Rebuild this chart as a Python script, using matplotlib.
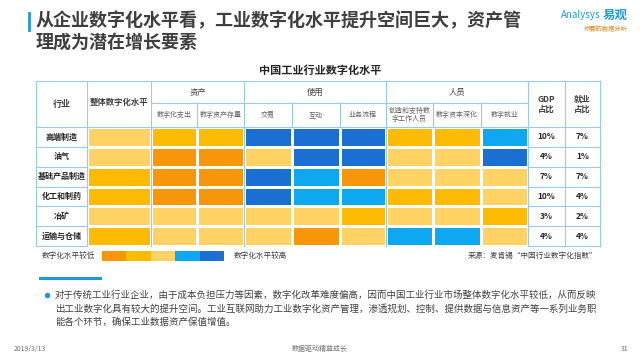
import matplotlib.pyplot as plt
from matplotlib.colors import ListedColormap, BoundaryNorm
import numpy as np

plt.rcParams['font.family'] = ['Noto Sans CJK SC', 'DejaVu Sans']

# data: level 1 (lowest) .. 5 (highest)
industries = ['高端制造', '油气', '基础产品制造', '化工和制药', '冶矿', '运输与仓储']
overall = [3, 3, 2, 2, 3, 2]
spend = [2, 1, 1, 1, 3, 3]
stock = [2, 1, 1, 1, 3, 3]
trade = [5, 3, 5, 5, 3, 3]
interact = [5, 5, 4, 4, 3, 1]
process = [5, 5, 1, 4, 2, 3]
creators = [2, 3, 3, 2, 3, 4]
capital = [2, 3, 3, 2, 3, 4]
employment = [4, 5, 3, 3, 2, 3]
gdp_share = ['10%', '4%', '7%', '10%', '3%', '4%']
emp_share = ['7%', '1%', '7%', '4%', '2%', '4%']
sub_heads = ['数字化支出', '数字资产存量', '交易', '互动', '业务流程',
             '创造和支持数\n字工作人员', '数字资本深化', '数字就业']
groups = ['资产', '使用', '人员']
legend_levels = [1, 2, 3, 4, 5]

colors = ['#F7960A', '#FCBA03', '#FED364', '#0EA8F0', '#1C6FD2']
cmap = ListedColormap(colors)
norm = BoundaryNorm([0.5, 1.5, 2.5, 3.5, 4.5, 5.5], cmap.N)

fig = plt.figure(figsize=(6.4, 3.6), dpi=100)
ax = fig.add_axes([0, 0, 1, 1])
ax.set_xlim(0, 640)
ax.set_ylim(360, 0)
ax.axis('off')

# title
ax.plot([29, 29], [13, 30], color='#1E9AD8', lw=2)
ax.text(36, 21, '从企业数字化水平看，工业数字化水平提升空间巨大，资产管',
        fontsize=13, fontweight='bold', color='#3F3F3F', va='center')
ax.text(36, 42, '理成为潜在增长要素', fontsize=13, fontweight='bold',
        color='#3F3F3F', va='center')
ax.text(561, 15, 'Analysys', fontsize=7, style='italic', color='#1E9AD8', va='center')
ax.text(603, 15, '易观', fontsize=9, fontweight='bold', color='#1E9AD8', va='center')
ax.text(584, 29, '你要的数据分析', fontsize=4.5, color='#E8821E', va='center')

ax.text(320, 70, '中国工业行业数字化水平', fontsize=8, fontweight='bold',
        color='#262626', ha='center', va='center')

# table geometry
xe = np.array([36, 87, 151, 197, 244, 292, 340, 386, 433, 481, 528, 565, 600])
top, mid, hb = 81, 103, 127
ye = np.linspace(127, 246, len(industries) + 1)
line_c = '#9CC8EA'

grid = np.array([overall, spend, stock, trade, interact, process,
                 creators, capital, employment]).T
ax.pcolormesh(xe[1:11], ye, grid, cmap=cmap, norm=norm,
              edgecolor='white', linewidth=0.8)

# header lines
for x in [36, 87, 151, 244, 386, 528, 565, 600]:
    ax.plot([x, x], [top, ye[-1]], color=line_c, lw=0.8)
for x in [197, 292, 340, 433, 481]:
    ax.plot([x, x], [mid, hb], color=line_c, lw=0.8)
ax.plot([36, 600], [top, top], color=line_c, lw=0.8)
ax.plot([151, 528], [mid, mid], color=line_c, lw=0.8)
ax.plot([36, 600], [hb, hb], color=line_c, lw=0.8)
for y in ye[1:]:
    ax.plot([36, 87], [y, y], color=line_c, lw=0.8)
    ax.plot([528, 600], [y, y], color=line_c, lw=0.8)

head_c = '#404040'
ax.text((xe[0] + xe[1]) / 2, 104, '行业', fontsize=6.5, fontweight='bold',
        color=head_c, ha='center', va='center')
ax.text((xe[1] + xe[2]) / 2, 102, '整体数字化水平', fontsize=6, fontweight='bold',
        color=head_c, ha='center', va='center')
for g, (x0, x1) in zip(groups, [(151, 244), (244, 386), (386, 528)]):
    ax.text((x0 + x1) / 2, 92, g, fontsize=6, color=head_c, ha='center', va='center')
for j, s in enumerate(sub_heads):
    ax.text((xe[2 + j] + xe[3 + j]) / 2, 115, s, fontsize=5, color='#606060',
            ha='center', va='center', linespacing=1.0)
ax.text((xe[10] + xe[11]) / 2, 104, 'GDP\n占比', fontsize=6, fontweight='bold',
        color=head_c, ha='center', va='center', linespacing=1.1)
ax.text((xe[11] + xe[12]) / 2, 104, '就业\n占比', fontsize=6, fontweight='bold',
        color=head_c, ha='center', va='center', linespacing=1.1)

for i, name in enumerate(industries):
    yc = (ye[i] + ye[i + 1]) / 2
    ax.text((xe[0] + xe[1]) / 2, yc, name, fontsize=5.8, fontweight='bold',
            color='#262626', ha='center', va='center')
    ax.text((xe[10] + xe[11]) / 2, yc, gdp_share[i], fontsize=6, fontweight='bold',
            color='#262626', ha='center', va='center')
    ax.text((xe[11] + xe[12]) / 2, yc, emp_share[i], fontsize=6, fontweight='bold',
            color='#262626', ha='center', va='center')

# legend bar
lx = np.linspace(102, 224, len(legend_levels) + 1)
ax.pcolormesh(lx, [251, 261], [legend_levels], cmap=cmap, norm=norm)
ax.text(42, 256, '数字化水平较低', fontsize=5.5, color='#404040', va='center')
ax.text(234, 256, '数字化水平较高', fontsize=5.5, color='#404040', va='center')
ax.text(597, 256, '来源：麦肯锡“中国行业数字化指数”', fontsize=5.5, color='#404040',
        ha='right', va='center')

# note
ax.plot([40, 100], [278, 278], color='#1E9AD8', lw=2.2)
ax.plot(47, 295, 'o', color='#1E9AD8', ms=3)
note = ['对于传统工业行业企业，由于成本负担压力等因素，数字化改革难度偏高，因而中国工业行业市场整体数字化水平较低，从而反映',
        '出工业数字化具有较大的提升空间。工业互联网助力工业数字化资产管理，渗透规划、控制、提供数据与信息资产等一系列业务职',
        '能各个环节，确保工业数据资产保值增值。']
for k, line in enumerate(note):
    ax.text(55, 295 + 13.5 * k, line, fontsize=6.8, color='#404040', va='center')

ax.text(14, 349, '2019/3/13', fontsize=5, color='#707070', va='center')
ax.text(320, 349, '数据驱动精益成长', fontsize=5, color='#707070', ha='center', va='center')
ax.text(628, 349, '31', fontsize=5, color='#707070', ha='right', va='center')

fig.savefig('out.png', dpi=100)
